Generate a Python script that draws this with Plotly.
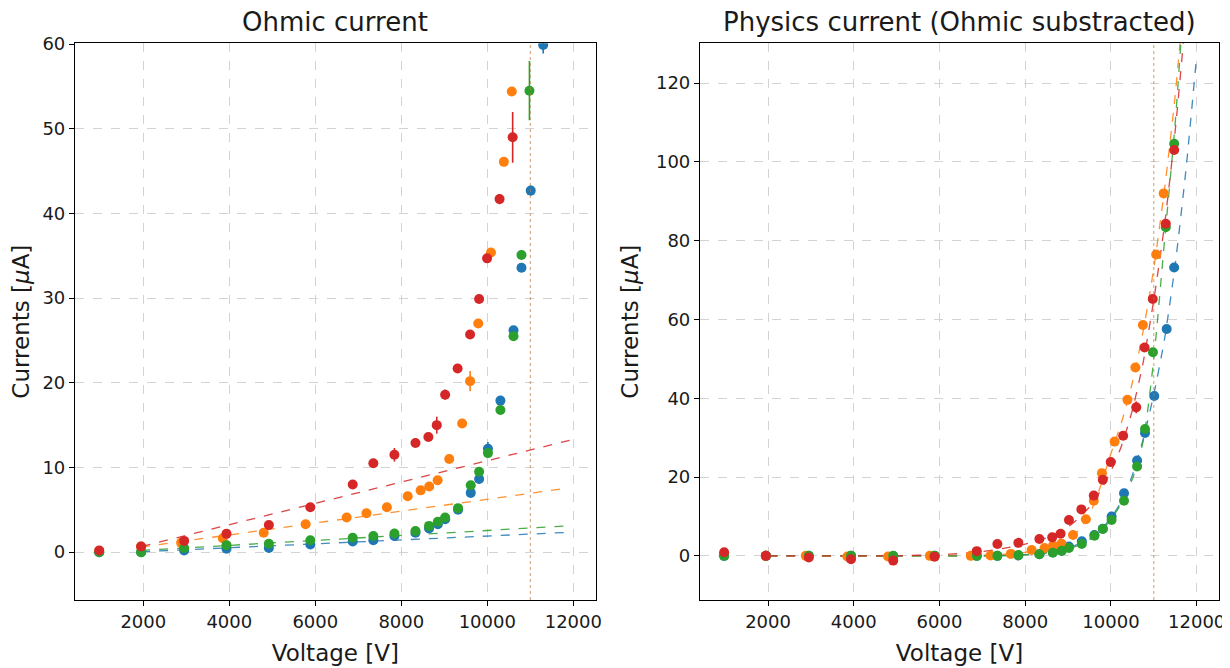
import plotly.graph_objects as go

# ---------------- data ----------------
COL_BLUE, COL_ORANGE, COL_GREEN, COL_RED = "#1f77b4", "#ff7f0e", "#2ca02c", "#d62728"

# Voltages of each series [V]
BLUE_V = [975, 1950, 2950, 3935, 4920, 5885, 6870, 7350, 7840, 8330, 8645, 8850, 9020, 9320,
          9615, 9810, 10015, 10305, 10610, 10795, 11010, 11300, 11475]
ORANGE_V = [975, 1945, 2880, 3850, 4800, 5775, 6730, 7190, 7665, 8150, 8450, 8650, 8845, 9115,
            9415, 9600, 9790, 10085, 10385, 10570, 10745, 11055, 11230]
GREEN_V = [975, 1950, 2950, 3935, 4920, 5885, 6870, 7350, 7840, 8330, 8645, 8850, 9020, 9320,
           9615, 9810, 10015, 10305, 10610, 10795, 10980, 11280, 11475]
RED_V = [975, 1950, 2950, 3935, 4920, 5885, 6870, 7350, 7840, 8330, 8630, 8825, 9020, 9310,
         9600, 9810, 9995, 10285, 10590, 10785, 10975, 11280, 11475]

# Left panel: measured currents [uA] (points above 60 uA are outside the view)
BLUE_TOT = [0.0, 0.0, 0.2, 0.4, 0.5, 0.9, 1.25, 1.4, 1.9, 2.3, 2.8, 3.3, 3.9, 5.0,
            7.0, 8.65, 12.2, 17.9, 26.2, 33.6, 42.7, 59.9]
BLUE_TOT_ERR = [0.05, 0.05, 0.1, 0.1, 0.1, 0.1, 0.15, 0.15, 0.2, 0.2, 0.2, 0.2, 0.25, 0.3,
                0.3, 0.35, 0.8, 0.4, 0.5, 0.5, 0.6, 1.0]
ORANGE_TOT = [0.15, 0.66, 1.1, 1.65, 2.3, 3.3, 4.1, 4.6, 5.3, 6.6, 7.3, 7.75, 8.5, 11.0,
              15.2, 20.2, 27.0, 35.4, 46.1, 54.4]
ORANGE_TOT_ERR = [0.05, 0.1, 0.1, 0.15, 0.15, 0.2, 0.2, 0.2, 0.25, 0.25, 0.3, 0.3, 0.3, 0.35,
                  0.4, 1.2, 0.4, 0.5, 0.5, 0.5]
GREEN_TOT = [0.0, 0.0, 0.5, 0.83, 1.0, 1.4, 1.7, 1.9, 2.2, 2.5, 3.1, 3.6, 4.1, 5.2,
             7.9, 9.5, 11.7, 16.8, 25.5, 35.1, 54.5]
GREEN_TOT_ERR = [0.05, 0.05, 0.1, 0.1, 0.1, 0.1, 0.15, 0.15, 0.2, 0.2, 0.2, 0.2, 0.25, 0.3,
                 0.3, 0.35, 0.4, 0.4, 0.5, 0.5, 3.5]
RED_TOT = [0.2, 0.66, 1.33, 2.16, 3.2, 5.3, 8.0, 10.5, 11.5, 12.9, 13.6, 15.0, 18.6, 21.7,
           25.7, 29.9, 34.7, 41.7, 49.0]
RED_TOT_ERR = [0.1, 0.1, 0.15, 0.2, 0.2, 0.25, 0.3, 0.35, 0.8, 0.4, 0.45, 1.0, 0.6, 0.4,
               0.4, 0.5, 0.5, 0.6, 3.0]

# Left panel: ohmic linear fits (start / end points) [V], [uA]
BLUE_OHM_V, BLUE_OHM_I = [1950, 11975], [0.05, 2.36]
ORANGE_OHM_V, ORANGE_OHM_I = [1945, 11715], [0.6, 7.45]
GREEN_OHM_V, GREEN_OHM_I = [1950, 11975], [0.2, 3.14]
RED_OHM_V, RED_OHM_I = [1960, 11940], [0.67, 13.25]

# Right panel: physics current (ohmic subtracted) [uA]
BLUE_PHYS = [0.0, 0.0, 0.0, 0.0, -0.1, 0.0, 0.0, 0.0, 0.1, 0.4, 0.9, 1.3, 2.4, 3.7,
             5.3, 6.9, 10.0, 15.9, 24.2, 31.2, 40.6, 57.6, 73.2]
ORANGE_PHYS = [0.2, 0.0, 0.0, -0.15, -0.15, 0.0, 0.0, 0.1, 0.5, 1.5, 2.0, 2.6, 3.1, 5.3,
               9.3, 14.0, 21.0, 29.0, 39.6, 47.8, 58.6, 76.5, 92.0]
GREEN_PHYS = [0.0, 0.0, 0.0, 0.0, 0.0, 0.0, 0.0, 0.0, 0.2, 0.4, 0.8, 1.3, 2.0, 3.0,
              5.1, 6.8, 9.1, 14.0, 22.7, 32.2, 51.7, 83.4, 104.6]
RED_PHYS = [0.94, 0.0, -0.4, -0.85, -1.2, -0.2, 1.2, 3.0, 3.3, 4.3, 4.7, 5.6, 9.1, 11.8,
            15.3, 19.3, 23.8, 30.5, 37.7, 52.9, 65.2, 84.3, 103.0]
RED_PHYS_ERR = [0.2] * 18 + [1.5, 0.6, 0.6, 0.6, 0.6]

# Right panel: fitted curves
FIT_V = [2000, 3000, 4000, 5000, 6000, 6500, 7000, 7500, 8000, 8500, 9000, 9250, 9500, 9750,
         10000, 10250, 10500, 10750, 11000, 11250, 11500, 11750, 12000]
BLUE_FIT = [0, 0, 0, 0, 0, 0, 0.02, 0.1, 0.3, 0.9, 2.1, 3.0, 4.4, 6.5,
            9.6, 14.0, 20.5, 29.5, 41.0, 55.0, 74.0, 98.0, 127.0]
ORANGE_FIT = [0, 0, 0, 0, 0, 0.05, 0.15, 0.4, 0.9, 2.0, 4.3, 6.5, 10.5, 17.5,
              26.0, 34.0, 44.0, 57.0, 73.0, 93.0, 117.0, 148.0, 185.0]
GREEN_FIT = [0, 0, 0, 0, 0, 0, 0.02, 0.08, 0.25, 0.7, 1.7, 2.7, 4.1, 6.2,
             9.2, 13.5, 19.5, 29.0, 50.0, 80.0, 110.0, 150.0, 200.0]
RED_FIT = [0, 0, 0, 0.05, 0.3, 0.6, 1.1, 1.9, 3.0, 4.6, 7.4, 9.6, 12.4, 16.4,
           21.5, 28.0, 37.0, 49.0, 65.0, 84.0, 108.0, 138.0, 175.0]

LIMIT_V = 11000
X_TICKS = [2000, 4000, 6000, 8000, 10000, 12000]
X_TICK_TEXT = ["2000", "4000", "6000", "8000", "10000", "12000"]
Y1_TICKS = [0, 10, 20, 30, 40, 50, 60]
Y2_TICKS = [0, 20, 40, 60, 80, 100, 120]

# ---------------- figure ----------------
OFF = 8                      # page body margin of the browser
W, H = 1230 - OFF, 668 - OFF
fig = go.Figure()

series = [
    (COL_BLUE, BLUE_V, BLUE_TOT, BLUE_TOT_ERR, BLUE_OHM_V, BLUE_OHM_I, BLUE_PHYS, None, BLUE_FIT),
    (COL_ORANGE, ORANGE_V, ORANGE_TOT, ORANGE_TOT_ERR, ORANGE_OHM_V, ORANGE_OHM_I, ORANGE_PHYS, None, ORANGE_FIT),
    (COL_GREEN, GREEN_V, GREEN_TOT, GREEN_TOT_ERR, GREEN_OHM_V, GREEN_OHM_I, GREEN_PHYS, None, GREEN_FIT),
    (COL_RED, RED_V, RED_TOT, RED_TOT_ERR, RED_OHM_V, RED_OHM_I, RED_PHYS, RED_PHYS_ERR, RED_FIT),
]

for col, v, tot, tot_err, ov, oi, phys, phys_err, fit in series:
    fig.add_trace(go.Scatter(x=ov, y=oi, mode="lines", xaxis="x", yaxis="y",
                             line=dict(color=col, width=1.3, dash="dash"), opacity=0.85,
                             showlegend=False, hoverinfo="skip"))
    fig.add_trace(go.Scatter(x=FIT_V, y=fit, mode="lines", xaxis="x2", yaxis="y2",
                             line=dict(color=col, width=1.3, dash="dash", shape="spline", smoothing=0.6),
                             opacity=0.85, showlegend=False, hoverinfo="skip"))

for col, v, tot, tot_err, ov, oi, phys, phys_err, fit in series:
    fig.add_trace(go.Scatter(x=v[:len(tot)], y=tot, mode="markers", xaxis="x", yaxis="y",
                             marker=dict(color=col, size=10),
                             error_y=dict(type="data", array=tot_err, color=col, thickness=1.6, width=0),
                             showlegend=False))
    ey = dict(type="data", array=phys_err, color=col, thickness=1.6, width=0) if phys_err else None
    fig.add_trace(go.Scatter(x=v, y=phys, mode="markers", xaxis="x2", yaxis="y2",
                             marker=dict(color=col, size=10), error_y=ey,
                             showlegend=False))

for xr, yr in (("x", "y domain"), ("x2", "y2 domain")):
    fig.add_shape(type="line", xref=xr, yref=yr, x0=LIMIT_V, x1=LIMIT_V, y0=0, y1=1,
                  line=dict(color="rgba(190,120,60,0.75)", width=1, dash="dot"))


def hx(px):
    return (px - OFF) / W


def vy(py):
    return (H - (py - OFF)) / H


y_dom = [vy(600), vy(43.3)]
TXT = "#1a1a1a"
axis_common = dict(showline=True, linecolor="black", linewidth=1.2, mirror=True,
                   ticks="outside", ticklen=5, tickcolor="black", tickwidth=1.1,
                   showgrid=True, gridcolor="#d3d3d3", gridwidth=1, griddash="dash",
                   zeroline=False, tickfont=dict(size=18, color=TXT),
                   title_font=dict(size=23, color=TXT))

fig.update_layout(
    width=W, height=H,
    margin=dict(l=0, r=0, t=0, b=0, autoexpand=False),
    paper_bgcolor="white", plot_bgcolor="white",
    font=dict(family="DejaVu Sans", color=TXT),
    showlegend=False,
    xaxis=dict(domain=[hx(75), hx(595.7)], range=[412, 12521], tickvals=X_TICKS, ticktext=X_TICK_TEXT,
               title=dict(text="Voltage [V]", standoff=14), anchor="y", **axis_common),
    yaxis=dict(domain=y_dom, range=[-5.65, 60.1], tickvals=Y1_TICKS,
               title=dict(text="Currents [<i>μ</i>A]", standoff=16), anchor="x", **axis_common),
    xaxis2=dict(domain=[hx(700), hx(1219)], range=[412, 12521], tickvals=X_TICKS, ticktext=X_TICK_TEXT,
                title=dict(text="Voltage [V]", standoff=14), anchor="y2", **axis_common),
    yaxis2=dict(domain=y_dom, range=[-11.2, 130.1], tickvals=Y2_TICKS,
                title=dict(text="Currents [<i>μ</i>A]", standoff=10), anchor="x2", **axis_common),
    annotations=[
        dict(text="Ohmic current", x=hx((75 + 595.7) / 2), y=vy(22), xref="paper", yref="paper",
             showarrow=False, font=dict(size=26, color=TXT), xanchor="center", yanchor="middle"),
        dict(text="Physics current (Ohmic substracted)", x=hx((700 + 1219) / 2), y=vy(22),
             xref="paper", yref="paper", showarrow=False, font=dict(size=26, color=TXT),
             xanchor="center", yanchor="middle"),
    ],
)

fig.write_html("out.html")
